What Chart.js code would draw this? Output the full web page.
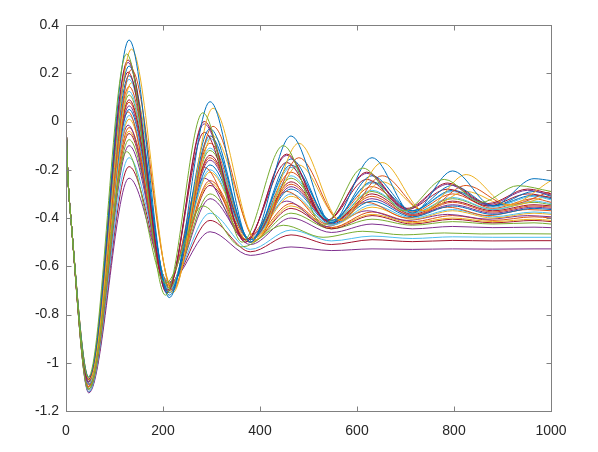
<!DOCTYPE html>
<html>
<head>
<meta charset="utf-8">
<script src="https://cdn.jsdelivr.net/npm/chart.js@4.4.0/dist/chart.umd.min.js"></script>
<style>
  html, body { margin: 0; padding: 0; background: #fff; overflow: hidden; }
  canvas { display: block; }
</style>
</head>
<body>
<canvas id="chart" width="598" height="452"></canvas>
<script>
// tick labels
const xTicks = [0, 200, 400, 600, 800, 1000];
const yTicks = [-1.2, -1, -0.8, -0.6, -0.4, -0.2, 0, 0.2, 0.4];

// sample times (peaks / troughs) for the different oscillation speeds
const tMid  = [0, 4, 10, 47, 130, 213, 297, 380, 464, 547, 631, 714, 797, 880, 965, 1000];
const tFast = [0, 4, 10, 46, 125, 205, 282, 363, 448, 530, 612, 696, 780, 856, 932, 1000];
const tRed  = [0, 4, 10, 46, 128, 208, 285, 370, 455, 538, 620, 703, 787, 870, 952, 1000];
const tSlow = [0, 4, 10, 48, 135, 220, 303, 392, 480, 566, 652, 738, 825, 912, 1000];

// common start of every curve
const startVals = [0, -0.23, -0.40];

// values read at the sample times (after the common start)
const s01 = [-1.06, 0.338, -0.73, 0.082, -0.50, -0.06, -0.42, -0.15, -0.38, -0.205, -0.35, -0.237, -0.245];
const s02 = [-1.07, 0.30, -0.71, 0.055, -0.49, -0.09, -0.41, -0.17, -0.37, -0.22, -0.345, -0.245];
const s03 = [-1.06, 0.28, -0.72, 0.036, -0.50, -0.10, -0.43, -0.193, -0.37, -0.24, -0.335, -0.266, -0.29];
const s04 = [-1.07, 0.255, -0.71, 0.00, -0.50, -0.135, -0.41, -0.21, -0.36, -0.255, -0.34, -0.28, -0.30];
const s05 = [-1.08, 0.245, -0.71, -0.01, -0.50, -0.14, -0.41, -0.215, -0.365, -0.26, -0.345, -0.285, -0.305];
const s06 = [-1.07, 0.23, -0.72, -0.03, -0.50, -0.155, -0.42, -0.225, -0.37, -0.265, -0.35, -0.29, -0.31];
const s07 = [-1.07, 0.215, -0.70, -0.02, -0.49, -0.15, -0.41, -0.225, -0.37, -0.265, -0.345, -0.29];
const s08 = [-1.08, 0.205, -0.70, -0.045, -0.49, -0.17, -0.41, -0.24, -0.365, -0.28, -0.35, -0.30, -0.315];
const s09 = [-1.07, 0.19, -0.71, -0.06, -0.49, -0.18, -0.41, -0.25, -0.37, -0.285, -0.35, -0.305, -0.32];
const s10 = [-1.08, 0.175, -0.70, -0.07, -0.49, -0.19, -0.41, -0.255, -0.37, -0.29, -0.355, -0.31, -0.325];
const s11 = [-1.08, 0.16, -0.69, -0.06, -0.48, -0.18, -0.41, -0.25, -0.37, -0.29, -0.35, -0.305];
const s12 = [-1.08, 0.145, -0.70, -0.09, -0.49, -0.21, -0.41, -0.27, -0.375, -0.30, -0.36, -0.32, -0.335];
const s13 = [-1.09, 0.125, -0.70, -0.11, -0.49, -0.225, -0.415, -0.285, -0.38, -0.315, -0.365, -0.33, -0.34];
const s14 = [-1.08, 0.11, -0.69, -0.12, -0.49, -0.235, -0.415, -0.29, -0.38, -0.32, -0.365, -0.335, -0.345];
const s15 = [-1.09, 0.09, -0.70, -0.14, -0.49, -0.25, -0.42, -0.30, -0.385, -0.33, -0.37, -0.345, -0.35];
const s16 = [-1.09, 0.08, -0.69, -0.15, -0.49, -0.26, -0.42, -0.31, -0.39, -0.335, -0.375, -0.35, -0.355];
const s17 = [-1.09, 0.065, -0.69, -0.16, -0.49, -0.27, -0.42, -0.32, -0.39, -0.345, -0.38, -0.355, -0.36];
const s18 = [-1.09, 0.05, -0.70, -0.18, -0.49, -0.28, -0.425, -0.33, -0.395, -0.35, -0.385, -0.36, -0.365];
const s19 = [-1.10, 0.04, -0.69, -0.19, -0.49, -0.29, -0.425, -0.335, -0.40, -0.355, -0.39, -0.365, -0.37];
const s20 = [-1.09, 0.025, -0.69, -0.20, -0.49, -0.30, -0.43, -0.345, -0.40, -0.365, -0.395, -0.375, -0.38];
const s21 = [-1.10, 0.01, -0.69, -0.21, -0.49, -0.31, -0.43, -0.355, -0.405, -0.37, -0.40, -0.38, -0.385];
const s22 = [-1.10, -0.015, -0.68, -0.235, -0.49, -0.33, -0.435, -0.37, -0.41, -0.385, -0.405, -0.39, -0.395];
const s23 = [-1.10, -0.025, -0.68, -0.245, -0.49, -0.34, -0.44, -0.375, -0.415, -0.39, -0.41, -0.395, -0.40];
const s24 = [-1.10, -0.04, -0.68, -0.255, -0.50, -0.35, -0.44, -0.385, -0.42, -0.40, -0.415, -0.405, -0.41];
const s25 = [-1.10, -0.05, -0.68, -0.265, -0.50, -0.36, -0.445, -0.39, -0.425, -0.405, -0.42, -0.41, -0.415];
const s26 = [-1.11, -0.075, -0.68, -0.30, -0.50, -0.38, -0.445, -0.405, -0.43, -0.415, -0.425, -0.42, -0.425];
const s27 = [-1.11, -0.10, -0.68, -0.32, -0.51, -0.40, -0.46, -0.425, -0.445, -0.435, -0.44, -0.438, -0.44];
const s28 = [-1.11, -0.125, -0.67, -0.35, -0.52, -0.43, -0.48, -0.455, -0.47, -0.462, -0.466, -0.465, -0.466];
const s29 = [-1.12, -0.15, -0.67, -0.38, -0.53, -0.45, -0.495, -0.475, -0.485, -0.478, -0.48, -0.48, -0.48];
const s30 = [-1.12, -0.187, -0.67, -0.41, -0.54, -0.47, -0.51, -0.49, -0.498, -0.493, -0.495, -0.494, -0.494];
const s31 = [-1.125, -0.235, -0.665, -0.457, -0.555, -0.52, -0.535, -0.528, -0.53, -0.528, -0.529, -0.528, -0.528];

// matlab line colours
const C = {
  blue: '#0072BD', orange: '#D95319', yellow: '#EDB120', purple: '#7E2F8E',
  green: '#77AC30', lightblue: '#4DBEEE', darkred: '#A2142F'
};

// first entry is drawn on top
const curves = [
  [s28, tFast, C.green], [s03, tFast, C.green], [s01, tMid, C.blue], [s02, tSlow, C.yellow],
  [s04, tRed, C.darkred], [s05, tRed, C.purple], [s06, tMid, C.blue], [s07, tSlow, C.orange],
  [s08, tRed, C.darkred], [s09, tMid, C.blue], [s10, tMid, C.lightblue], [s11, tSlow, C.yellow],
  [s12, tMid, C.orange], [s13, tMid, C.lightblue], [s14, tMid, C.green], [s15, tMid, C.darkred],
  [s16, tMid, C.orange], [s17, tMid, C.purple], [s18, tMid, C.blue], [s19, tRed, C.orange],
  [s20, tMid, C.lightblue], [s21, tMid, C.yellow], [s22, tRed, C.purple], [s23, tMid, C.orange],
  [s24, tMid, C.yellow], [s25, tMid, C.darkred], [s26, tMid, C.green], [s27, tMid, C.purple],
  [s29, tMid, C.lightblue], [s30, tMid, C.darkred], [s31, tMid, C.purple]
];

function fmt(v) {
  const r = Math.round(v * 10) / 10;
  return r === 0 ? '0' : String(r);
}

const boxAxes = {
  id: 'boxAxes',
  afterDatasetsDraw(chart) {
    const { ctx, chartArea: a, scales: { x, y } } = chart;
    const l = Math.round(a.left) + 0.5, r = Math.round(a.right) + 0.5;
    const t = Math.round(a.top) + 0.5, b = Math.round(a.bottom) + 0.5;
    ctx.save();
    ctx.strokeStyle = '#808080';
    ctx.lineWidth = 1;
    ctx.strokeRect(l, t, r - l, b - t);
    ctx.beginPath();
    xTicks.forEach(v => {
      const px = Math.round(x.getPixelForValue(v)) + 0.5;
      ctx.moveTo(px, b); ctx.lineTo(px, b - 5);
      ctx.moveTo(px, t); ctx.lineTo(px, t + 5);
    });
    yTicks.forEach(v => {
      const py = Math.round(y.getPixelForValue(v)) + 0.5;
      ctx.moveTo(l, py); ctx.lineTo(l + 5, py);
      ctx.moveTo(r, py); ctx.lineTo(r - 5, py);
    });
    ctx.stroke();
    ctx.restore();
  }
};

const font = { family: "'Liberation Sans', Arial, sans-serif", size: 14 };

new Chart(document.getElementById('chart'), {
  type: 'line',
  data: {
    datasets: curves.map(([vals, times, color], i) => ({
      label: 'line ' + (i + 1),
      data: startVals.concat(vals).map((v, k) => ({ x: times[k], y: v })),
      borderColor: color,
      borderWidth: 1,
      pointRadius: 0,
      fill: false,
      cubicInterpolationMode: 'monotone'
    }))
  },
  options: {
    responsive: false,
    animation: false,
    layout: { padding: { top: 25, right: 47, left: 0, bottom: 0 } },
    plugins: { legend: { display: false }, tooltip: { enabled: false } },
    scales: {
      x: {
        type: 'linear', min: 0, max: 1000,
        afterBuildTicks: s => { s.ticks = xTicks.map(v => ({ value: v })); },
        afterFit: s => { s.height = 41; },
        grid: { display: false, drawTicks: false },
        border: { display: false },
        ticks: { color: '#262626', font, padding: 12, maxRotation: 0, callback: v => fmt(v) }
      },
      y: {
        type: 'linear', min: -1.2, max: 0.4,
        afterBuildTicks: s => { s.ticks = yTicks.map(v => ({ value: v })); },
        afterFit: s => { s.width = 66; },
        grid: { display: false, drawTicks: false },
        border: { display: false },
        ticks: { color: '#262626', font, padding: 7, callback: v => fmt(v) }
      }
    }
  },
  plugins: [boxAxes]
});
</script>
</body>
</html>
